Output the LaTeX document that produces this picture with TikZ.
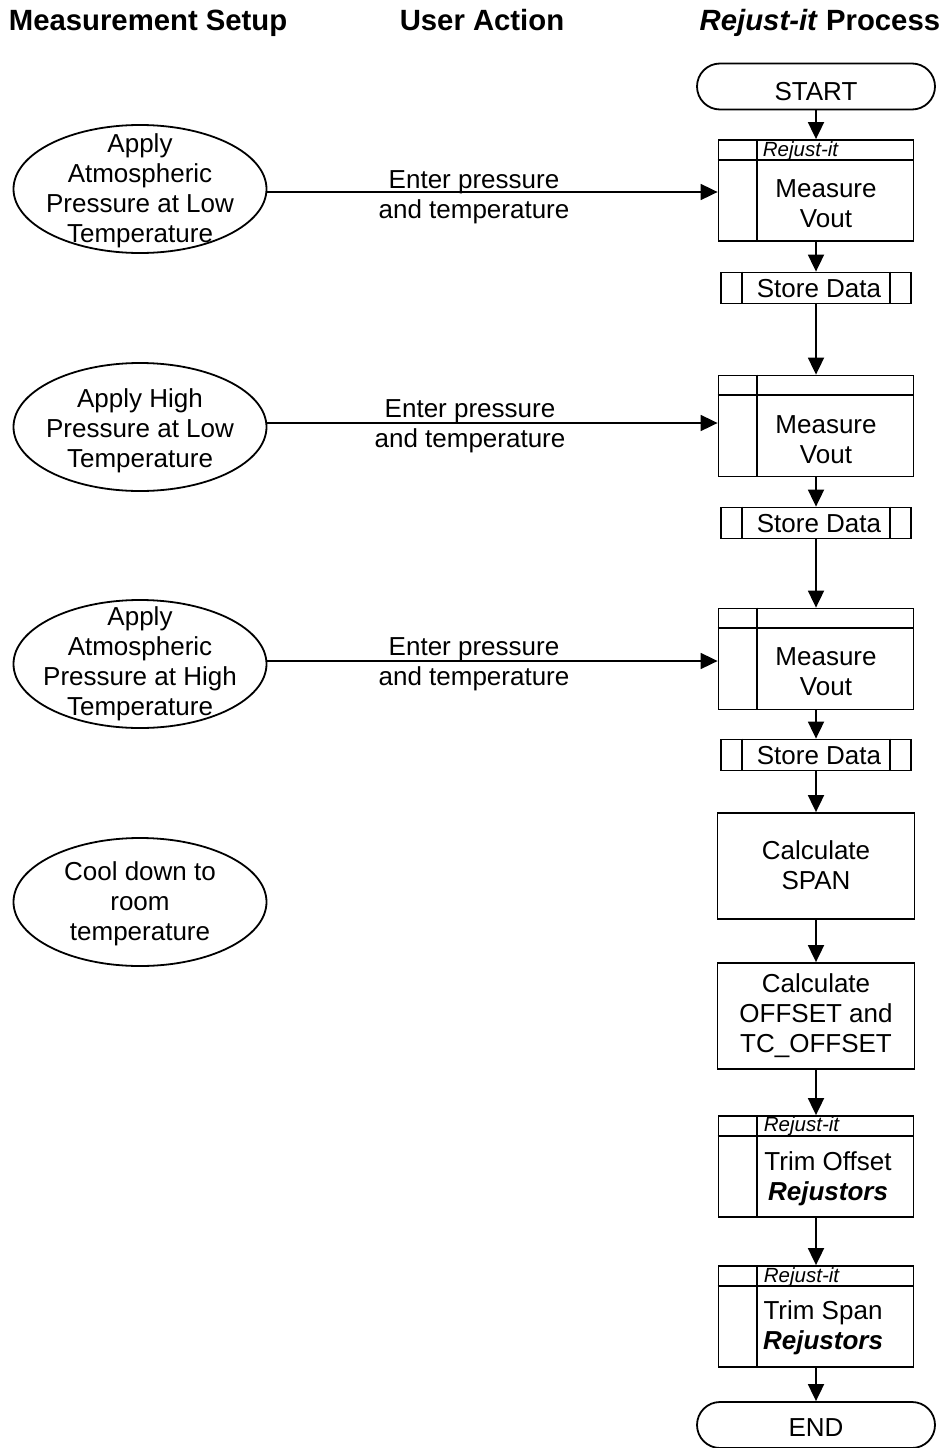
\documentclass[tikz,border=0pt]{standalone}
\usepackage{fontspec}
\setmainfont{Liberation Sans}
\usetikzlibrary{shapes.geometric,shapes.misc,arrows.meta}
\begin{document}
\begin{tikzpicture}[x=1pt,y=-1pt,
  line width=1.8pt,
  body/.style={font=\fontsize{26}{30}\selectfont, align=center, inner sep=0pt},
  hdr/.style={font=\fontsize{29.3}{32}\selectfont\bfseries, inner sep=0pt},
  small/.style={font=\fontsize{20.5}{22}\selectfont\itshape, inner sep=0pt, anchor=west},
  ell/.style={draw, ellipse, minimum width=253pt, minimum height=128pt, inner sep=0pt},
  pbox/.style={draw, rectangle, minimum width=195pt, minimum height=101pt, inner sep=0pt},
  cbox/.style={draw, rectangle, minimum width=197pt, minimum height=106pt, inner sep=0pt},
  sbox/.style={draw, rectangle, minimum width=190pt, minimum height=31pt, inner sep=0pt},
  term/.style={draw, rounded rectangle, minimum width=238pt, minimum height=46pt, inner sep=0pt},
  arr/.style={-{Triangle[length=17pt,width=16pt]}},
]
\useasboundingbox (0,0) rectangle (945,1448);

% headers
\node[hdr, anchor=base west] (h1) at (8,30) {Measurement Setup};
\node[hdr, anchor=base] (h2) at (482,30) {User Action};
\node[hdr, anchor=base east] (h3) at (941,30) {\textit{Rejust-it} Process};

% measurement setup ellipses
\node[ell] (e1) at (140,189) {};
\node[body] (et1) at (140,191) {Apply\\Atmospheric\\Pressure at Low\\Temperature};
\node[ell] (e2) at (140,427) {};
\node[body] (et2) at (140,431) {Apply High\\Pressure at Low\\Temperature};
\node[ell] (e3) at (140,664) {};
\node[body] (et3) at (140,664) {Apply\\Atmospheric\\Pressure at High\\Temperature};
\node[ell] (e4) at (140,902) {};
\node[body] (et4) at (140,904) {Cool down to\\room\\temperature};

% process column
\node[term] (start) at (816,86.5) {};
\node[body] (startt) at (816,92) {START};

\node[pbox] (b1) at (816,190.5) {};
\node[body] (b1t) at (826,204) {Measure\\Vout};
\node[small] (r1) at (762,151) {Rejust-it};
\node[sbox] (s1) at (816,288) {};
\node[body] (s1t) at (819,289) {Store Data};

\node[pbox] (b2) at (816,426) {};
\node[body] (b2t) at (826,440) {Measure\\Vout};
\node[sbox] (s2) at (816,523) {};
\node[body] (s2t) at (819,524) {Store Data};

\node[pbox] (b3) at (816,659) {};
\node[body] (b3t) at (826,672) {Measure\\Vout};
\node[sbox] (s3) at (816,755) {};
\node[body] (s3t) at (819,756) {Store Data};

\node[cbox] (c1) at (816,866) {};
\node[body] (c1t) at (816,865) {Calculate\\SPAN};
\node[cbox] (c2) at (816,1016) {};
\node[body] (c2t) at (816,1016) {Calculate\\OFFSET and\\TC\_OFFSET};

\node[pbox] (t1) at (816,1166.5) {};
\node[small] (r2) at (763,1126) {Rejust-it};
\node[body] (t1t) at (828,1179) {Trim Offset\\\textbf{\textit{Rejustors}}};
\node[pbox] (t2) at (816,1316.5) {};
\node[small] (r3) at (763,1277) {Rejust-it};
\node[body] (t2t) at (823,1328) {Trim Span\\\textbf{\textit{Rejustors}}};

\node[term] (end) at (816,1425) {};
\node[body] (endt) at (816,1428) {END};

% box inner dividers
\foreach \n in {b1,b2,b3,t1,t2} {
  \draw ([yshift=-20.5pt]\n.north west) -- ([yshift=-20.5pt]\n.north east);
  \draw ([xshift=39pt]\n.north west) -- ([xshift=39pt]\n.south west);
}
\foreach \n in {s1,s2,s3} {
  \draw ([xshift=22pt]\n.north west) -- ([xshift=22pt]\n.south west);
  \draw ([xshift=-22pt]\n.north east) -- ([xshift=-22pt]\n.south east);
}

% vertical flow
\draw[arr] (start) -- (b1);
\draw[arr] (b1) -- (s1);
\draw[arr] (s1) -- (b2);
\draw[arr] (b2) -- (s2);
\draw[arr] (s2) -- (b3);
\draw[arr] (b3) -- (s3);
\draw[arr] (s3) -- (c1);
\draw[arr] (c1) -- (c2);
\draw[arr] (c2) -- (t1);
\draw[arr] (t1) -- (t2);
\draw[arr] (t2) -- (end);

% user actions
\coordinate (a1) at (266,192);
\draw[arr] (a1) -- (a1 -| b1.west);
\node[body] (l1) at (474,197) {Enter pressure\\and temperature};
\coordinate (a2) at (266,423);
\draw[arr] (a2) -- (a2 -| b2.west);
\node[body] (l2) at (470,426) {Enter pressure\\and temperature};
\coordinate (a3) at (266,661);
\draw[arr] (a3) -- (a3 -| b3.west);
\node[body] (l3) at (474,664) {Enter pressure\\and temperature};
\end{tikzpicture}
\end{document}
